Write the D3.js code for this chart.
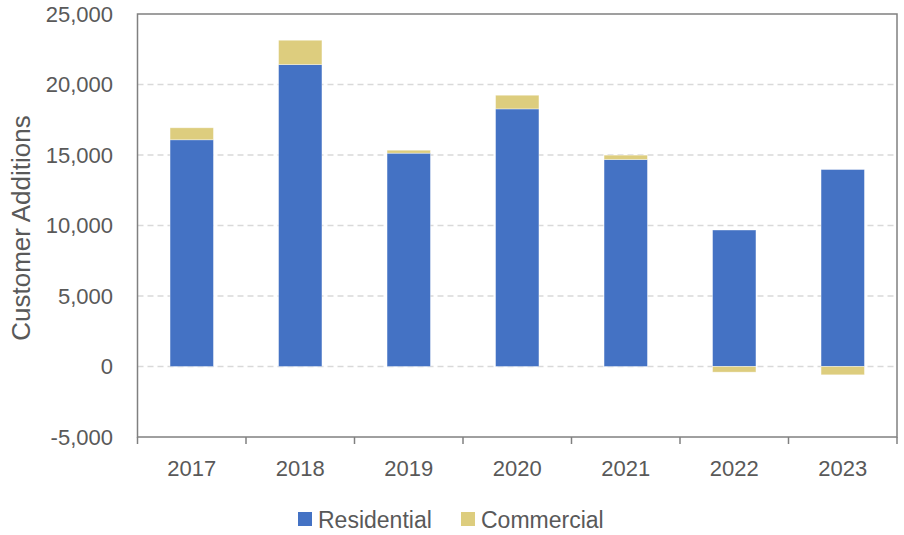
<!DOCTYPE html>
<html>
<head>
<meta charset="utf-8">
<script src="https://cdn.jsdelivr.net/npm/d3@7"></script>
<style>
  html, body { margin: 0; padding: 0; background: #fff; }
  svg { display: block; font-family: "Liberation Sans", Arial, sans-serif; }
</style>
</head>
<body>
<svg id="chart" width="904" height="535"></svg>
<script>
// Annual customer additions by class
const years = ["2017", "2018", "2019", "2020", "2021", "2022", "2023"];
const residential = [16080, 21410, 15130, 18270, 14680, 9680, 13970];
const commercial = [850, 1730, 210, 970, 310, -400, -590];
const seriesNames = ["Residential", "Commercial"];
const seriesColors = ["#4472C4", "#DDCD7E"];
const yTicks = [-5000, 0, 5000, 10000, 15000, 20000, 25000];

const svg = d3.select("#chart");
const margin = { left: 137.5, top: 14, right: 7, bottom: 98 };
const W = 904, H = 535;
const plotW = W - margin.left - margin.right;
const plotH = H - margin.top - margin.bottom;

const x = d3.scaleBand().domain(years).range([margin.left, margin.left + plotW]).paddingInner(0.6).paddingOuter(0.3);
const y = d3.scaleLinear().domain([-5000, 25000]).range([margin.top + plotH, margin.top]);

// Gridlines (skip the bottom edge, which is the axis line)
svg.append("g").selectAll("line")
  .data(yTicks.filter(t => t > -5000 && t < 25000))
  .join("line")
  .attr("x1", margin.left).attr("x2", margin.left + plotW)
  .attr("y1", d => y(d)).attr("y2", d => y(d))
  .attr("stroke", "#D9D9D9").attr("stroke-width", 1.5)
  .attr("stroke-dasharray", "6,4");

// Stacked bars: positive values stack upward, negative values downward
const rows = years.map((yr, i) => ({ year: yr, values: [residential[i], commercial[i]] }));
const segments = [];
rows.forEach(r => {
  let pos = 0, neg = 0;
  r.values.forEach((v, k) => {
    let y0, y1;
    if (v >= 0) { y0 = pos; y1 = pos + v; pos = y1; }
    else { y0 = neg + v; y1 = neg; neg = y0; }
    segments.push({ year: r.year, k, y0, y1 });
  });
});

svg.append("g").selectAll("rect")
  .data(segments)
  .join("rect")
  .attr("x", d => x(d.year))
  .attr("width", x.bandwidth())
  .attr("y", d => y(d.y1))
  .attr("height", d => y(d.y0) - y(d.y1))
  .attr("fill", d => seriesColors[d.k])
  .attr("stroke", "#ffffff").attr("stroke-opacity", 0.5).attr("stroke-width", 0.75);

// Plot frame
svg.append("rect")
  .attr("x", margin.left).attr("y", margin.top)
  .attr("width", plotW).attr("height", plotH)
  .attr("fill", "none").attr("stroke", "#808080").attr("stroke-width", 1.5);

// Category separator ticks below the axis
const bounds = d3.range(years.length + 1).map(i => margin.left + i * plotW / years.length);
svg.append("g").selectAll("line")
  .data(bounds)
  .join("line")
  .attr("x1", d => d).attr("x2", d => d)
  .attr("y1", margin.top + plotH).attr("y2", margin.top + plotH + 7)
  .attr("stroke", "#808080").attr("stroke-width", 1.5);

// Y tick labels (plain hyphen for negatives)
const fmt = d => d3.format(",")(d).replace("\u2212", "-");
svg.append("g").selectAll("text")
  .data(yTicks)
  .join("text")
  .attr("x", 113).attr("y", d => y(d))
  .attr("dy", "0.35em")
  .attr("text-anchor", "end")
  .attr("fill", "#595959").attr("font-size", 22)
  .text(d => fmt(d));

// X labels
svg.append("g").selectAll("text")
  .data(years)
  .join("text")
  .attr("x", d => x(d) + x.bandwidth() / 2)
  .attr("y", 476)
  .attr("text-anchor", "middle")
  .attr("fill", "#595959").attr("font-size", 22)
  .text(d => d);

// Y axis title
svg.append("text")
  .attr("transform", "translate(30,228) rotate(-90)")
  .attr("text-anchor", "middle")
  .attr("fill", "#595959").attr("font-size", 26)
  .text("Customer Additions");

// Legend
const legend = svg.append("g");
const legendX = [298, 461];
seriesNames.forEach((name, k) => {
  legend.append("rect")
    .attr("x", legendX[k]).attr("y", 512)
    .attr("width", 14).attr("height", 14)
    .attr("fill", seriesColors[k]);
  legend.append("text")
    .attr("x", legendX[k] + 20).attr("y", 528)
    .attr("fill", "#595959").attr("font-size", 23)
    .text(name);
});
</script>
</body>
</html>
